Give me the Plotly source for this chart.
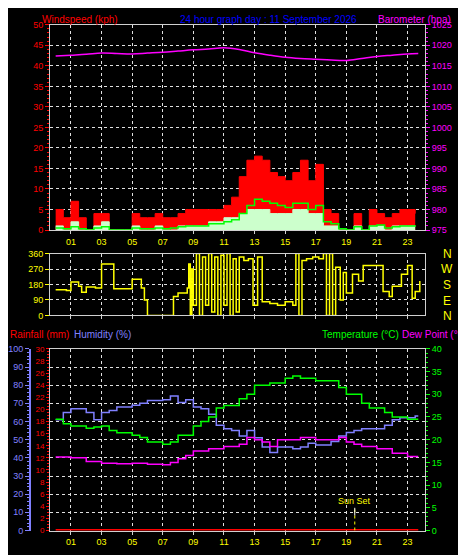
import plotly.graph_objects as go

# ---------------- data ----------------
hours_tick = [1, 3, 5, 7, 9, 11, 13, 15, 17, 19, 21, 23]
tick_labels = ["01", "03", "05", "07", "09", "11", "13", "15", "17", "19", "21", "23"]

baro_h = [0, 1, 2, 3, 4, 5, 6, 7, 8, 9, 10, 11, 12, 13, 14, 15, 16, 17, 18, 19, 20, 21, 22, 23, 23.7]
baro_v = [1017.4, 1017.6, 1017.8, 1018.1, 1018.0, 1017.9, 1018.1, 1018.3, 1018.6, 1018.9, 1019.1, 1019.4,
          1019.0, 1018.2, 1017.6, 1017.1, 1016.8, 1016.6, 1016.4, 1016.3, 1016.8, 1017.3, 1017.6, 1017.9, 1018.0]

wind_h = [i * 0.5 for i in range(48)]
gust = [5, 3, 7, 3, 0, 4, 4, 0, 0, 0, 4, 3, 3, 4, 3, 3, 4, 5, 5, 5, 5, 5, 6, 8,
        13, 17, 18, 17, 14, 13, 12, 14, 17, 12, 16, 5, 4, 0, 0, 4, 0, 5, 4, 3, 4, 5, 5, 4]
speed = [1, 0, 2, 0, 0, 1, 2, 0, 0, 0, 1, 0, 0, 1, 0, 0, 1, 1, 1, 1, 2, 2, 3, 3,
         4, 5, 5, 5, 4, 4, 4, 5, 5, 4, 4, 1, 1, 0, 0, 1, 0, 1, 1, 0, 1, 1, 1, 1]
avg = [0.5, 0.3, 0.8, 0.3, 0, 0.5, 0.8, 0, 0, 0, 0.5, 0.3, 0.3, 0.5, 0.3, 0.5, 0.8, 1, 1, 1, 1.5, 1.5, 2, 2.5,
       4, 6, 7.5, 7, 6.5, 6, 5.5, 6.5, 6.5, 5, 6, 2, 1.5, 0.3, 0, 0.8, 0, 1, 1.2, 0.5, 0.8, 1, 1, 0.8]

dir_h = [0, 0.7, 1.0, 1.5, 1.7, 2.0, 2.6, 3.0, 3.8, 4.5, 5.0, 5.6, 5.8, 6.0, 7.5, 7.7, 8.0, 8.6, 8.7, 8.8, 8.9,
         9.0, 9.2, 9.4, 9.6, 9.8, 10.0, 10.2, 10.4, 10.6, 10.8, 11.0, 11.2, 11.4, 11.6, 11.8, 12.0, 12.3,
         12.6, 12.9, 13.2, 13.5, 14.0, 14.5, 15.0, 15.5, 15.7, 15.9, 16.1, 16.4, 16.8, 17.2, 17.5, 17.7,
         17.9, 18.1, 18.3, 18.6, 18.8, 19.0, 19.4, 19.8, 20.1, 21.0, 21.4, 21.8, 22.0, 22.6, 23.0, 23.3, 23.5, 23.8]
dir_v = [150, 145, 195, 170, 135, 165, 160, 300, 155, 155, 210, 160, 90, 0, 0, 110, 130, 160, 300, 0, 270,
         60, 360, 0, 340, 60, 360, 20, 340, 0, 350, 60, 360, 0, 330, 20, 340, 320, 330, 60, 340, 80, 70,
         60, 80, 60, 360, 0, 320, 330, 340, 330, 360, 0, 360, 0, 280, 90, 250, 130, 240, 200, 290, 290, 140,
         110, 170, 240, 290, 100, 140, 200]

bh = [0, 0.5, 1, 2, 2.5, 3, 3.5, 4, 4.5, 5, 5.5, 6, 7, 7.5, 8, 8.5, 9, 9.5, 10, 10.5, 11, 11.5, 12, 12.5,
      13, 13.5, 14, 14.5, 15, 15.5, 16, 16.5, 17, 17.5, 18, 18.5, 19, 19.5, 20, 21, 21.5, 22, 22.5, 23, 23.5, 23.7]
humidity = [61, 65, 67, 65, 61, 65, 66, 68, 68, 69, 70, 71.5, 72, 74, 70.5, 72, 68, 67, 64, 58, 56, 55, 52, 55,
            51, 46, 43, 46, 46, 45, 46, 48, 47, 47, 49, 52, 54, 55, 56, 56, 58, 61, 62, 62, 63, 63]

th = [0, 0.5, 1, 2, 2.5, 3, 3.5, 4, 5, 5.5, 6, 7, 7.5, 8, 8.5, 9, 9.5, 10, 10.5, 11, 12, 12.5, 13, 14, 15,
      15.5, 16, 17, 18, 18.5, 19, 20, 20.5, 21, 21.5, 22, 22.5, 23, 23.7]
temperature = [24.5, 23.5, 23, 22.5, 22.8, 23, 22, 21.5, 21, 20.5, 19.5, 19, 19.5, 21, 21, 23, 24, 25, 27, 27.5,
               29, 30, 32, 32.5, 33.5, 34, 33.5, 33, 33, 31.5, 30, 28, 27, 27, 26, 25, 25, 24.5, 24.5]

dh = [0, 1, 2, 3, 4, 5, 6, 7, 7.5, 8, 8.5, 9, 10, 11, 12, 12.5, 13, 13.5, 14, 14.5, 15, 15.5, 16, 17, 18,
      18.5, 19, 19.5, 20, 21, 22, 23, 23.7]
dewpoint = [16.2, 16, 15.2, 14.8, 14.7, 14.8, 14.6, 14.5, 15, 15.8, 16.5, 17.5, 18, 18.5, 19, 20.5, 20, 19.5,
            18.5, 20, 20, 20, 20.5, 20, 20, 20.5, 19.5, 19, 18.5, 18, 17, 16.3, 16.3]

rain_h = [0, 23.7]
rain = [0, 0]
sunset = 19.55

# ---------------- figure ----------------
F = "Liberation Sans"
H, W = 555, 466
def py(p):
    return 1 - p / H

XR = [-0.37, 24.14]
xdom = [42 / W, 417 / W]
grid = dict(showgrid=True, gridcolor="#e0e0e0", griddash="dot", gridwidth=1)

fig = go.Figure()
fig.add_trace(go.Scatter(x=wind_h, y=gust, mode="lines", line=dict(color="#ff0000", width=1, shape="hv"),
                         fill="tozeroy", fillcolor="#ff0000", xaxis="x", yaxis="y"))
fig.add_trace(go.Scatter(x=wind_h, y=speed, mode="lines", line=dict(color="#ccffcc", width=1, shape="hv"),
                         fill="tozeroy", fillcolor="#ccffcc", xaxis="x", yaxis="y"))
fig.add_trace(go.Scatter(x=wind_h, y=avg, mode="lines", line=dict(color="#00ff00", width=1.5, shape="hv"),
                         xaxis="x", yaxis="y"))
fig.add_trace(go.Scatter(x=baro_h, y=baro_v, mode="lines", line=dict(color="#ff00ff", width=1.5, shape="spline"),
                         xaxis="x", yaxis="y2"))
fig.add_trace(go.Scatter(x=dir_h, y=dir_v, mode="lines", line=dict(color="#ffff00", width=1.5, shape="hv"),
                         xaxis="x2", yaxis="y3"))
fig.add_trace(go.Scatter(x=rain_h, y=rain, mode="lines", line=dict(color="#ff0000", width=3),
                         xaxis="x3", yaxis="y5"))
fig.add_trace(go.Scatter(x=bh, y=humidity, mode="lines", line=dict(color="#8080ff", width=1.5, shape="hv"),
                         xaxis="x3", yaxis="y4"))
fig.add_trace(go.Scatter(x=th, y=temperature, mode="lines", line=dict(color="#00ff00", width=1.5, shape="hv"),
                         xaxis="x3", yaxis="y6"))
fig.add_trace(go.Scatter(x=dh, y=dewpoint, mode="lines", line=dict(color="#ff00ff", width=1.5, shape="hv"),
                         xaxis="x3", yaxis="y6"))

ax_common = dict(range=XR, tickvals=hours_tick, ticktext=tick_labels, tickfont=dict(color="#ffff00", size=9, family=F),
                 linecolor="#d0d0d0", mirror=True, showline=True, zeroline=False, ticks="outside", tickcolor="#d0d0d0",
                 ticklen=3, **grid)

fig.update_layout(
    width=W, height=H, margin=dict(l=0, r=0, t=0, b=0),
    paper_bgcolor="black", plot_bgcolor="black", showlegend=False,
    font=dict(family=F, size=9),
    xaxis=dict(domain=xdom, anchor="y", **ax_common),
    xaxis2=dict(domain=xdom, anchor="y3", **{**ax_common, "showticklabels": False}),
    xaxis3=dict(domain=xdom, anchor="y5", **ax_common),
    yaxis=dict(domain=[py(221), py(12)], range=[0, 50], dtick=5, tickfont=dict(color="#ff0000", size=9),
               linecolor="#d0d0d0", showline=True, ticks="outside", tickcolor="#ff0000", ticklen=4,
               minor=dict(ticks="outside", dtick=1, ticklen=2, tickcolor="#ff0000"), zeroline=False, **grid),
    yaxis2=dict(overlaying="y", side="right", anchor="x", range=[975, 1025], dtick=5,
                tickfont=dict(color="#ff00ff", size=9), linecolor="#d0d0d0", showline=True, ticks="outside",
                tickcolor="#ff00ff", ticklen=4, minor=dict(ticks="outside", dtick=1, ticklen=2, tickcolor="#ff00ff"),
                showgrid=False, zeroline=False),
    yaxis3=dict(domain=[py(308), py(245)], anchor="x2", range=[0, 360], tickvals=[0, 90, 180, 270, 360],
                tickfont=dict(color="#ffff00", size=9), ticks="outside", tickcolor="#ffff00", ticklen=4,
                linecolor="#d0d0d0", showline=True, mirror=True, zeroline=False, **grid),
    yaxis5=dict(domain=[py(527), py(342)], anchor="x3", range=[0, 30], dtick=2, tickfont=dict(color="#ff0000", size=8),
                ticks="outside", tickcolor="#ff0000", ticklen=3, linecolor="#d0d0d0", showline=True, zeroline=False,
                minor=dict(ticks="outside", dtick=0.5, ticklen=2, tickcolor="#ff0000"), showgrid=False),
    yaxis4=dict(overlaying="y5", anchor="free", position=22 / W, side="left", range=[0, 100], dtick=10,
                tickfont=dict(color="#8080ff", size=9), ticks="outside", tickcolor="#8080ff", ticklen=4,
                linecolor="#8080ff", linewidth=2, showline=True, zeroline=False,
                minor=dict(ticks="outside", dtick=2, ticklen=2, tickcolor="#8080ff"), **grid),
    yaxis6=dict(overlaying="y5", side="right", anchor="x3", range=[0, 40], dtick=5,
                tickfont=dict(color="#00ff00", size=9), ticks="outside", tickcolor="#00ff00", ticklen=4,
                linecolor="#d0d0d0", showline=True, zeroline=False, showgrid=False,
                minor=dict(ticks="outside", dtick=1, ticklen=2, tickcolor="#00ff00")),
)

def label(x, y, text, color, anchor="left", size=10):
    fig.add_annotation(x=x / W, y=py(y), xref="paper", yref="paper", text=text, showarrow=False,
                       xanchor=anchor, yanchor="middle", font=dict(color=color, size=size, family=F))

label(32, 7, "Windspeed (kph)", "#ff0000")
label(170, 7, "24 hour graph day : 11 September 2026", "#0000ff")
label(368, 7, "Barometer (hpa)", "#ff00ff")
label(0, 327, "Rainfall (mm)", "#ff0000")
label(64, 327, "Humidity (%)", "#8080ff")
label(312, 327, "Temperature (°C)", "#00ff00")
label(392, 327, "Dew Point (°C)", "#ff00ff")
for i, d in enumerate(["N", "W", "S", "E", "N"]):
    label(439, 245 + i * 16, d, "#ffff00", anchor="center", size=12)

fig.add_shape(type="line", xref="x3", yref="y6", x0=sunset, x1=sunset, y0=0, y1=5,
              line=dict(color="#ffff00", width=1, dash="dot"))
fig.add_shape(type="line", xref="x3", yref="y6", x0=sunset, x1=sunset, y0=3.3, y1=5,
              line=dict(color="white", width=1))
fig.add_annotation(x=sunset, y=6.5, xref="x3", yref="y6", text="Sun Set", showarrow=False,
                   font=dict(color="#ffff00", size=9, family=F))

fig.write_html("out.html")
